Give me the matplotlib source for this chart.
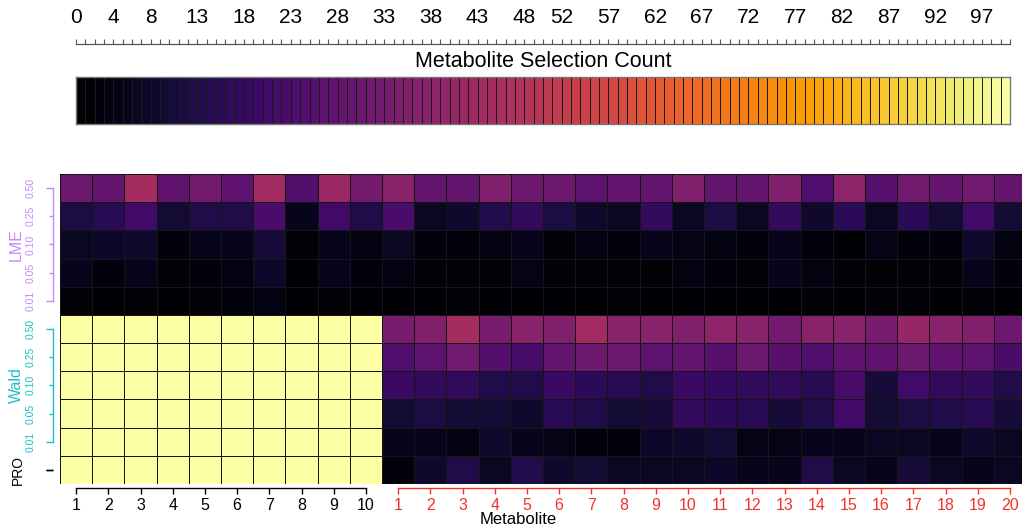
import numpy as np
import matplotlib
matplotlib.use('Agg')
import matplotlib.pyplot as plt
import matplotlib.transforms as mtransforms
from matplotlib.colors import ListedColormap, Normalize

plt.rcParams['font.family'] = ['Liberation Sans', 'DejaVu Sans']

# 選択回数 (100回中)  -- 列: 真の代謝物 1-10, その他の代謝物 1-20
lme_050 = [30, 28, 44, 27, 32, 27, 43, 24, 41, 32, 37, 28, 28, 35, 30, 30, 26, 28, 28, 35, 29, 29, 35, 23, 38, 25, 32, 28, 31, 29]
lme_025 = [11, 14, 20, 9, 12, 12, 22, 5, 20, 12, 22, 6, 8, 13, 16, 11, 8, 6, 17, 6, 11, 6, 17, 8, 15, 6, 15, 9, 20, 9]
lme_010 = [6, 7, 8, 2, 5, 5, 10, 1, 5, 3, 6, 2, 2, 3, 5, 1, 3, 2, 5, 4, 3, 2, 5, 2, 0, 4, 2, 2, 8, 3]
lme_005 = [5, 2, 5, 1, 2, 3, 7, 0, 5, 2, 3, 1, 1, 1, 4, 1, 1, 1, 1, 3, 2, 1, 5, 3, 1, 1, 1, 1, 5, 2]
lme_001 = [1, 0, 1, 0, 1, 2, 3, 0, 1, 0, 0, 0, 1, 0, 0, 0, 0, 1, 0, 0, 0, 0, 0, 1, 0, 1, 1, 0, 1, 0]
wald_050 = [100, 100, 100, 100, 100, 100, 100, 100, 100, 100,
            33, 35, 44, 33, 37, 35, 43, 37, 37, 35, 38, 37, 32, 37, 37, 33, 40, 37, 35, 30]
wald_025 = [100, 100, 100, 100, 100, 100, 100, 100, 100, 100,
            23, 26, 31, 24, 21, 29, 30, 30, 26, 28, 25, 30, 25, 23, 27, 27, 30, 27, 26, 22]
wald_010 = [100, 100, 100, 100, 100, 100, 100, 100, 100, 100,
            18, 16, 16, 12, 12, 18, 15, 14, 12, 18, 17, 16, 16, 14, 21, 10, 20, 16, 16, 12]
wald_005 = [100, 100, 100, 100, 100, 100, 100, 100, 100, 100,
            9, 11, 9, 9, 8, 14, 12, 9, 10, 17, 15, 14, 10, 12, 20, 9, 11, 12, 14, 10]
wald_001 = [100, 100, 100, 100, 100, 100, 100, 100, 100, 100,
            5, 5, 3, 8, 5, 4, 2, 2, 7, 8, 9, 4, 4, 5, 5, 6, 6, 5, 8, 6]
pro_1 = [100, 100, 100, 100, 100, 100, 100, 100, 100, 100,
         2, 8, 12, 6, 13, 8, 9, 6, 6, 6, 7, 5, 5, 12, 6, 5, 10, 6, 5, 6]

alpha_labels = ['0.50', '0.25', '0.10', '0.05', '0.01']
true_labels = [str(i) for i in range(1, 11)]
null_labels = [str(i) for i in range(1, 21)]
count_levels = np.arange(100)
count_tick_labels = [0, 4, 8, 13, 18, 23, 28, 33, 38, 43, 48, 52, 57, 62, 67, 72, 77, 82, 87, 92, 97]

counts = np.array([lme_050, lme_025, lme_010, lme_005, lme_001,
                   wald_050, wald_025, wald_010, wald_005, wald_001, pro_1])

LME_COL = '#C488FA'
WALD_COL = '#1CBFC6'
RED_COL = '#F2322A'

W, H = 1022, 526
fig = plt.figure(figsize=(W / 100, H / 100), dpi=100)

cmap = ListedColormap(plt.get_cmap('inferno')(np.linspace(0, 1, 100)))
norm = Normalize(0, 100)


def px(x0, y0, x1, y1):
    # ピクセル座標 (左上原点) -> figure 座標
    return [x0 / W, 1 - y1 / H, (x1 - x0) / W, (y1 - y0) / H]


# ---- カラーバー ----
cb = fig.add_axes(px(76, 77, 1010, 124))
cb.pcolormesh(np.arange(101), [0, 1], count_levels[None, :], cmap=cmap, norm=norm,
              edgecolors='#1a1a1a', linewidth=0.45)
cb.set_xlim(0, 100)
cb.set_ylim(0, 1)
cb.set_xticks([])
cb.set_yticks([])
for s in cb.spines.values():
    s.set_color('#777777')
    s.set_linewidth(1.0)

# 目盛り (カラーバー上部)
ruler = fig.add_axes(px(76, 43.5, 1010, 44.5))
ruler.set_xlim(0, 100)
ruler.set_yticks([])
for k in ['left', 'right', 'bottom']:
    ruler.spines[k].set_visible(False)
ruler.spines['top'].set_color('#555555')
ruler.spines['top'].set_linewidth(0.9)
ruler.patch.set_visible(False)
ruler.xaxis.tick_top()
ruler.set_xticks(count_tick_labels)
ruler.set_xticklabels([str(v) for v in count_tick_labels])
ruler.set_xticks(np.arange(101), minor=True)
ruler.tick_params(axis='x', which='both', direction='out', length=3.6, width=0.8,
                  color='#555555', top=True, bottom=False)
ruler.tick_params(axis='x', which='major', labelsize=15, pad=8)

fig.text(543 / W, 1 - 67 / H, 'Metabolite Selection Count', ha='center', va='baseline',
         fontsize=15.5)

# ---- ヒートマップ ----
rect = px(60, 174, 60 + 30 * 32.2, 484)
ax = fig.add_axes(rect)
ax.pcolormesh(np.arange(31) - 0.5, np.arange(12) - 0.5, counts, cmap=cmap, norm=norm,
              edgecolors='#151515', linewidth=0.55)
ax.set_xlim(-0.5, 29.5)
ax.set_ylim(10.5, -0.5)
ax.patch.set_visible(False)


def overlay():
    a = fig.add_axes(rect)
    a.set_xlim(ax.get_xlim())
    a.set_ylim(ax.get_ylim())
    a.patch.set_visible(False)
    a.set_xticks([])
    a.set_yticks([])
    for s in a.spines.values():
        s.set_visible(False)
    return a


def y_group(a, rows, labels, color):
    a.spines['left'].set_visible(True)
    a.spines['left'].set_bounds(rows[0], rows[-1])
    a.spines['left'].set_position(('outward', 5.04))
    a.spines['left'].set_color(color)
    a.spines['left'].set_linewidth(1.0)
    ends = [rows[0], rows[-1]]
    a.set_yticks(ends)
    a.set_yticks(rows[1:-1], minor=True)
    if labels is not None:
        a.set_yticklabels([labels[0], labels[-1]])
        a.set_yticklabels(labels[1:-1], minor=True)
    else:
        a.set_yticklabels([''] * len(ends))
    a.tick_params(axis='y', which='major', length=5.04, width=1.0, color=color,
                  labelcolor=color, labelsize=7.5, pad=7.3, labelrotation=90)
    a.tick_params(axis='y', which='minor', length=2.9, width=1.0, color=color,
                  labelcolor=color, labelsize=7.5, pad=9.4, labelrotation=90)
    for t in a.get_yticklabels(which='both'):
        t.set_va('center')


for s in ax.spines.values():
    s.set_visible(False)
ax.set_xticks([])
ax.set_yticks([])

lme_ax = overlay()
y_group(lme_ax, [0, 1, 2, 3, 4], alpha_labels, LME_COL)
wald_ax = overlay()
y_group(wald_ax, [5, 6, 7, 8, 9], alpha_labels, WALD_COL)
pro_ax = overlay()
y_group(pro_ax, [10, 10], None, 'black')

# x軸: 真の代謝物 (黒) と その他 (赤)
true_ax = overlay()
true_ax.spines['bottom'].set_visible(True)
true_ax.spines['bottom'].set_bounds(0, 9)
true_ax.spines['bottom'].set_position(('outward', 2.9))
true_ax.spines['bottom'].set_linewidth(1.0)
true_ax.set_xticks(np.arange(10))
true_ax.set_xticklabels(true_labels)
true_ax.tick_params(axis='x', length=4.3, width=1.0, labelsize=11.5, pad=2.9)

null_ax = overlay()
null_ax.spines['bottom'].set_visible(True)
null_ax.spines['bottom'].set_bounds(10, 29)
null_ax.spines['bottom'].set_position(('outward', 2.9))
null_ax.spines['bottom'].set_color(RED_COL)
null_ax.spines['bottom'].set_linewidth(1.0)
null_ax.set_xticks(np.arange(10, 30))
null_ax.set_xticklabels(null_labels)
null_ax.tick_params(axis='x', length=4.3, width=1.0, labelsize=11.5, pad=2.9,
                    color=RED_COL, labelcolor=RED_COL)

# グループ名
tr = mtransforms.blended_transform_factory(fig.transFigure, ax.transData)
ax.text(24 / W, 2, 'LME', transform=tr, rotation=90, ha='right', va='center',
        color=LME_COL, fontsize=11.5)
ax.text(24 / W, 7, 'Wald', transform=tr, rotation=90, ha='right', va='center',
        color=WALD_COL, fontsize=11.5)
ax.text(25 / W, 10, 'PRO', transform=tr, rotation=90, ha='right', va='center',
        color='black', fontsize=10)

fig.text(518 / W, 1 - 519 / H, 'Metabolite', ha='center', va='center', fontsize=12)

fig.savefig('out.png', dpi=100)
